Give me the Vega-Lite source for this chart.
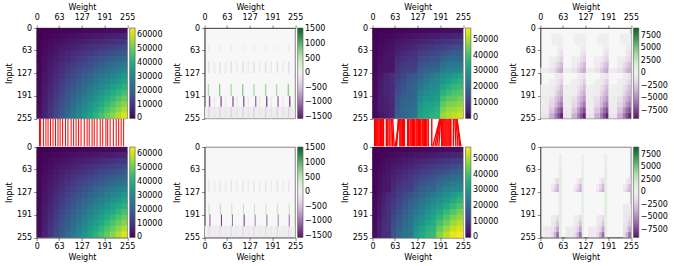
{"$schema":"https://vega.github.io/schema/vega-lite/v6.json","autosize":"none","padding":{"left":36.7,"top":28,"right":637.3,"bottom":238},"background":"white","bounds":"flush","columns":4,"spacing":{"row":0,"column":76.9},"config":{"font":"DejaVu Sans","view":{"stroke":"#555","strokeWidth":0.7},"axis":{"grid":false,"labelFontSize":8,"titleFontSize":8,"titleFontWeight":"normal","tickSize":3,"tickWidth":0.6,"tickColor":"#333","domainColor":"#333","domainWidth":0.7,"labelColor":"black","titleColor":"black","labelFlush":false,"labelOverlap":false},"legend":{"orient":"right","offset":2,"padding":0,"title":null,"gradientLength":90.5,"gradientThickness":5.4,"labelFontSize":8,"labelOffset":6,"labelColor":"black","labelOverlap":false,"gradientStrokeColor":"#555","gradientStrokeWidth":0.6}},"resolve":{"scale":{"color":"independent","x":"independent","y":"independent"}},"datasets":{
"mul":[{"w":8,"i":8,"v":100},{"w":24,"i":8,"v":200},{"w":40,"i":8,"v":300},{"w":56,"i":8,"v":400},{"w":72,"i":8,"v":600},{"w":88,"i":8,"v":700},{"w":104,"i":8,"v":800},{"w":120,"i":8,"v":1000},{"w":136,"i":8,"v":1100},{"w":152,"i":8,"v":1200},{"w":168,"i":8,"v":1300},{"w":184,"i":8,"v":1500},{"w":200,"i":8,"v":1600},{"w":216,"i":8,"v":1700},{"w":232,"i":8,"v":1900},{"w":248,"i":8,"v":2000},
{"w":8,"i":24,"v":200},{"w":24,"i":24,"v":600},{"w":40,"i":24,"v":1000},{"w":56,"i":24,"v":1300},{"w":72,"i":24,"v":1700},{"w":88,"i":24,"v":2100},{"w":104,"i":24,"v":2500},{"w":120,"i":24,"v":2900},{"w":136,"i":24,"v":3300},{"w":152,"i":24,"v":3600},{"w":168,"i":24,"v":4000},{"w":184,"i":24,"v":4400},{"w":200,"i":24,"v":4800},{"w":216,"i":24,"v":5200},{"w":232,"i":24,"v":5600},{"w":248,"i":24,"v":6000},
{"w":8,"i":40,"v":300},{"w":24,"i":40,"v":1000},{"w":40,"i":40,"v":1600},{"w":56,"i":40,"v":2200},{"w":72,"i":40,"v":2900},{"w":88,"i":40,"v":3500},{"w":104,"i":40,"v":4200},{"w":120,"i":40,"v":4800},{"w":136,"i":40,"v":5400},{"w":152,"i":40,"v":6100},{"w":168,"i":40,"v":6700},{"w":184,"i":40,"v":7400},{"w":200,"i":40,"v":8000},{"w":216,"i":40,"v":8600},{"w":232,"i":40,"v":9300},{"w":248,"i":40,"v":9900},
{"w":8,"i":56,"v":400},{"w":24,"i":56,"v":1300},{"w":40,"i":56,"v":2200},{"w":56,"i":56,"v":3100},{"w":72,"i":56,"v":4000},{"w":88,"i":56,"v":4900},{"w":104,"i":56,"v":5800},{"w":120,"i":56,"v":6700},{"w":136,"i":56,"v":7600},{"w":152,"i":56,"v":8500},{"w":168,"i":56,"v":9400},{"w":184,"i":56,"v":10300},{"w":200,"i":56,"v":11200},{"w":216,"i":56,"v":12100},{"w":232,"i":56,"v":13000},{"w":248,"i":56,"v":13900},
{"w":8,"i":72,"v":600},{"w":24,"i":72,"v":1700},{"w":40,"i":72,"v":2900},{"w":56,"i":72,"v":4000},{"w":72,"i":72,"v":5200},{"w":88,"i":72,"v":6300},{"w":104,"i":72,"v":7500},{"w":120,"i":72,"v":8600},{"w":136,"i":72,"v":9800},{"w":152,"i":72,"v":10900},{"w":168,"i":72,"v":12100},{"w":184,"i":72,"v":13200},{"w":200,"i":72,"v":14400},{"w":216,"i":72,"v":15600},{"w":232,"i":72,"v":16700},{"w":248,"i":72,"v":17900},
{"w":8,"i":88,"v":700},{"w":24,"i":88,"v":2100},{"w":40,"i":88,"v":3500},{"w":56,"i":88,"v":4900},{"w":72,"i":88,"v":6300},{"w":88,"i":88,"v":7700},{"w":104,"i":88,"v":9200},{"w":120,"i":88,"v":10600},{"w":136,"i":88,"v":12000},{"w":152,"i":88,"v":13400},{"w":168,"i":88,"v":14800},{"w":184,"i":88,"v":16200},{"w":200,"i":88,"v":17600},{"w":216,"i":88,"v":19000},{"w":232,"i":88,"v":20400},{"w":248,"i":88,"v":21800},
{"w":8,"i":104,"v":800},{"w":24,"i":104,"v":2500},{"w":40,"i":104,"v":4200},{"w":56,"i":104,"v":5800},{"w":72,"i":104,"v":7500},{"w":88,"i":104,"v":9200},{"w":104,"i":104,"v":10800},{"w":120,"i":104,"v":12500},{"w":136,"i":104,"v":14100},{"w":152,"i":104,"v":15800},{"w":168,"i":104,"v":17500},{"w":184,"i":104,"v":19100},{"w":200,"i":104,"v":20800},{"w":216,"i":104,"v":22500},{"w":232,"i":104,"v":24100},{"w":248,"i":104,"v":25800},
{"w":8,"i":120,"v":1000},{"w":24,"i":120,"v":2900},{"w":40,"i":120,"v":4800},{"w":56,"i":120,"v":6700},{"w":72,"i":120,"v":8600},{"w":88,"i":120,"v":10600},{"w":104,"i":120,"v":12500},{"w":120,"i":120,"v":14400},{"w":136,"i":120,"v":16300},{"w":152,"i":120,"v":18200},{"w":168,"i":120,"v":20200},{"w":184,"i":120,"v":22100},{"w":200,"i":120,"v":24000},{"w":216,"i":120,"v":25900},{"w":232,"i":120,"v":27800},{"w":248,"i":120,"v":29800},
{"w":8,"i":136,"v":1100},{"w":24,"i":136,"v":3300},{"w":40,"i":136,"v":5400},{"w":56,"i":136,"v":7600},{"w":72,"i":136,"v":9800},{"w":88,"i":136,"v":12000},{"w":104,"i":136,"v":14100},{"w":120,"i":136,"v":16300},{"w":136,"i":136,"v":18500},{"w":152,"i":136,"v":20700},{"w":168,"i":136,"v":22800},{"w":184,"i":136,"v":25000},{"w":200,"i":136,"v":27200},{"w":216,"i":136,"v":29400},{"w":232,"i":136,"v":31600},{"w":248,"i":136,"v":33700},
{"w":8,"i":152,"v":1200},{"w":24,"i":152,"v":3600},{"w":40,"i":152,"v":6100},{"w":56,"i":152,"v":8500},{"w":72,"i":152,"v":10900},{"w":88,"i":152,"v":13400},{"w":104,"i":152,"v":15800},{"w":120,"i":152,"v":18200},{"w":136,"i":152,"v":20700},{"w":152,"i":152,"v":23100},{"w":168,"i":152,"v":25500},{"w":184,"i":152,"v":28000},{"w":200,"i":152,"v":30400},{"w":216,"i":152,"v":32800},{"w":232,"i":152,"v":35300},{"w":248,"i":152,"v":37700},
{"w":8,"i":168,"v":1300},{"w":24,"i":168,"v":4000},{"w":40,"i":168,"v":6700},{"w":56,"i":168,"v":9400},{"w":72,"i":168,"v":12100},{"w":88,"i":168,"v":14800},{"w":104,"i":168,"v":17500},{"w":120,"i":168,"v":20200},{"w":136,"i":168,"v":22800},{"w":152,"i":168,"v":25500},{"w":168,"i":168,"v":28200},{"w":184,"i":168,"v":30900},{"w":200,"i":168,"v":33600},{"w":216,"i":168,"v":36300},{"w":232,"i":168,"v":39000},{"w":248,"i":168,"v":41700},
{"w":8,"i":184,"v":1500},{"w":24,"i":184,"v":4400},{"w":40,"i":184,"v":7400},{"w":56,"i":184,"v":10300},{"w":72,"i":184,"v":13200},{"w":88,"i":184,"v":16200},{"w":104,"i":184,"v":19100},{"w":120,"i":184,"v":22100},{"w":136,"i":184,"v":25000},{"w":152,"i":184,"v":28000},{"w":168,"i":184,"v":30900},{"w":184,"i":184,"v":33900},{"w":200,"i":184,"v":36800},{"w":216,"i":184,"v":39700},{"w":232,"i":184,"v":42700},{"w":248,"i":184,"v":45600},
{"w":8,"i":200,"v":1600},{"w":24,"i":200,"v":4800},{"w":40,"i":200,"v":8000},{"w":56,"i":200,"v":11200},{"w":72,"i":200,"v":14400},{"w":88,"i":200,"v":17600},{"w":104,"i":200,"v":20800},{"w":120,"i":200,"v":24000},{"w":136,"i":200,"v":27200},{"w":152,"i":200,"v":30400},{"w":168,"i":200,"v":33600},{"w":184,"i":200,"v":36800},{"w":200,"i":200,"v":40000},{"w":216,"i":200,"v":43200},{"w":232,"i":200,"v":46400},{"w":248,"i":200,"v":49600},
{"w":8,"i":216,"v":1700},{"w":24,"i":216,"v":5200},{"w":40,"i":216,"v":8600},{"w":56,"i":216,"v":12100},{"w":72,"i":216,"v":15600},{"w":88,"i":216,"v":19000},{"w":104,"i":216,"v":22500},{"w":120,"i":216,"v":25900},{"w":136,"i":216,"v":29400},{"w":152,"i":216,"v":32800},{"w":168,"i":216,"v":36300},{"w":184,"i":216,"v":39700},{"w":200,"i":216,"v":43200},{"w":216,"i":216,"v":46700},{"w":232,"i":216,"v":50100},{"w":248,"i":216,"v":53600},
{"w":8,"i":232,"v":1900},{"w":24,"i":232,"v":5600},{"w":40,"i":232,"v":9300},{"w":56,"i":232,"v":13000},{"w":72,"i":232,"v":16700},{"w":88,"i":232,"v":20400},{"w":104,"i":232,"v":24100},{"w":120,"i":232,"v":27800},{"w":136,"i":232,"v":31600},{"w":152,"i":232,"v":35300},{"w":168,"i":232,"v":39000},{"w":184,"i":232,"v":42700},{"w":200,"i":232,"v":46400},{"w":216,"i":232,"v":50100},{"w":232,"i":232,"v":53800},{"w":248,"i":232,"v":57500},
{"w":8,"i":248,"v":2000},{"w":24,"i":248,"v":6000},{"w":40,"i":248,"v":9900},{"w":56,"i":248,"v":13900},{"w":72,"i":248,"v":17900},{"w":88,"i":248,"v":21800},{"w":104,"i":248,"v":25800},{"w":120,"i":248,"v":29800},{"w":136,"i":248,"v":33700},{"w":152,"i":248,"v":37700},{"w":168,"i":248,"v":41700},{"w":184,"i":248,"v":45600},{"w":200,"i":248,"v":49600},{"w":216,"i":248,"v":53600},{"w":232,"i":248,"v":57500},{"w":248,"i":248,"v":61500}],
"p3":[{"w":8,"i":8,"v":100},{"w":24,"i":8,"v":200},{"w":40,"i":8,"v":300},{"w":56,"i":8,"v":400},{"w":72,"i":8,"v":600},{"w":88,"i":8,"v":700},{"w":104,"i":8,"v":800},{"w":120,"i":8,"v":1000},{"w":136,"i":8,"v":1100},{"w":152,"i":8,"v":1200},{"w":168,"i":8,"v":1300},{"w":184,"i":8,"v":1500},{"w":200,"i":8,"v":1600},{"w":216,"i":8,"v":1700},{"w":232,"i":8,"v":1900},{"w":248,"i":8,"v":2000},
{"w":8,"i":24,"v":200},{"w":24,"i":24,"v":600},{"w":40,"i":24,"v":1000},{"w":56,"i":24,"v":1200},{"w":72,"i":24,"v":1700},{"w":88,"i":24,"v":2100},{"w":104,"i":24,"v":2500},{"w":120,"i":24,"v":2800},{"w":136,"i":24,"v":3300},{"w":152,"i":24,"v":3600},{"w":168,"i":24,"v":4000},{"w":184,"i":24,"v":4300},{"w":200,"i":24,"v":4800},{"w":216,"i":24,"v":5200},{"w":232,"i":24,"v":5600},{"w":248,"i":24,"v":5900},
{"w":8,"i":40,"v":300},{"w":24,"i":40,"v":900},{"w":40,"i":40,"v":1500},{"w":56,"i":40,"v":2000},{"w":72,"i":40,"v":2900},{"w":88,"i":40,"v":3400},{"w":104,"i":40,"v":4100},{"w":120,"i":40,"v":4600},{"w":136,"i":40,"v":5400},{"w":152,"i":40,"v":6000},{"w":168,"i":40,"v":6600},{"w":184,"i":40,"v":7200},{"w":200,"i":40,"v":8000},{"w":216,"i":40,"v":8500},{"w":232,"i":40,"v":9200},{"w":248,"i":40,"v":9700},
{"w":8,"i":56,"v":400},{"w":24,"i":56,"v":1200},{"w":40,"i":56,"v":2000},{"w":56,"i":56,"v":2700},{"w":72,"i":56,"v":4000},{"w":88,"i":56,"v":4800},{"w":104,"i":56,"v":5600},{"w":120,"i":56,"v":6300},{"w":136,"i":56,"v":7600},{"w":152,"i":56,"v":8400},{"w":168,"i":56,"v":9200},{"w":184,"i":56,"v":9900},{"w":200,"i":56,"v":11200},{"w":216,"i":56,"v":12000},{"w":232,"i":56,"v":12800},{"w":248,"i":56,"v":13500},
{"w":8,"i":72,"v":600},{"w":24,"i":72,"v":1600},{"w":40,"i":72,"v":2700},{"w":56,"i":72,"v":3200},{"w":72,"i":72,"v":5200},{"w":88,"i":72,"v":6200},{"w":104,"i":72,"v":7300},{"w":120,"i":72,"v":7800},{"w":136,"i":72,"v":9800},{"w":152,"i":72,"v":10800},{"w":168,"i":72,"v":11900},{"w":184,"i":72,"v":12400},{"w":200,"i":72,"v":14400},{"w":216,"i":72,"v":15500},{"w":232,"i":72,"v":16500},{"w":248,"i":72,"v":17100},
{"w":8,"i":88,"v":700},{"w":24,"i":88,"v":2000},{"w":40,"i":88,"v":3100},{"w":56,"i":88,"v":2900},{"w":72,"i":88,"v":6300},{"w":88,"i":88,"v":7600},{"w":104,"i":88,"v":8800},{"w":120,"i":88,"v":8600},{"w":136,"i":88,"v":12000},{"w":152,"i":88,"v":13300},{"w":168,"i":88,"v":14400},{"w":184,"i":88,"v":14200},{"w":200,"i":88,"v":17600},{"w":216,"i":88,"v":18900},{"w":232,"i":88,"v":20000},{"w":248,"i":88,"v":19800},
{"w":8,"i":104,"v":800},{"w":24,"i":104,"v":2400},{"w":40,"i":104,"v":3200},{"w":56,"i":104,"v":2800},{"w":72,"i":104,"v":7500},{"w":88,"i":104,"v":9100},{"w":104,"i":104,"v":9800},{"w":120,"i":104,"v":9500},{"w":136,"i":104,"v":14100},{"w":152,"i":104,"v":15700},{"w":168,"i":104,"v":16500},{"w":184,"i":104,"v":16100},{"w":200,"i":104,"v":20800},{"w":216,"i":104,"v":22400},{"w":232,"i":104,"v":23100},{"w":248,"i":104,"v":22800},
{"w":8,"i":120,"v":900},{"w":24,"i":120,"v":2600},{"w":40,"i":120,"v":2800},{"w":56,"i":120,"v":3200},{"w":72,"i":120,"v":8500},{"w":88,"i":120,"v":10300},{"w":104,"i":120,"v":10500},{"w":120,"i":120,"v":10900},{"w":136,"i":120,"v":16200},{"w":152,"i":120,"v":17900},{"w":168,"i":120,"v":18200},{"w":184,"i":120,"v":18600},{"w":200,"i":120,"v":23900},{"w":216,"i":120,"v":25600},{"w":232,"i":120,"v":25800},{"w":248,"i":120,"v":26300},
{"w":8,"i":136,"v":1100},{"w":24,"i":136,"v":3200},{"w":40,"i":136,"v":5300},{"w":56,"i":136,"v":7300},{"w":72,"i":136,"v":9800},{"w":88,"i":136,"v":11900},{"w":104,"i":136,"v":14000},{"w":120,"i":136,"v":16000},{"w":136,"i":136,"v":18500},{"w":152,"i":136,"v":20600},{"w":168,"i":136,"v":22700},{"w":184,"i":136,"v":24700},{"w":200,"i":136,"v":27200},{"w":216,"i":136,"v":29300},{"w":232,"i":136,"v":31400},{"w":248,"i":136,"v":33400},
{"w":8,"i":152,"v":1200},{"w":24,"i":152,"v":3500},{"w":40,"i":152,"v":5800},{"w":56,"i":152,"v":7500},{"w":72,"i":152,"v":10900},{"w":88,"i":152,"v":13300},{"w":104,"i":152,"v":15500},{"w":120,"i":152,"v":17200},{"w":136,"i":152,"v":20700},{"w":152,"i":152,"v":23000},{"w":168,"i":152,"v":25200},{"w":184,"i":152,"v":27000},{"w":200,"i":152,"v":30400},{"w":216,"i":152,"v":32700},{"w":232,"i":152,"v":35000},{"w":248,"i":152,"v":36700},
{"w":8,"i":168,"v":1200},{"w":24,"i":168,"v":3800},{"w":40,"i":168,"v":5900},{"w":56,"i":168,"v":6900},{"w":72,"i":168,"v":12000},{"w":88,"i":168,"v":14600},{"w":104,"i":168,"v":16700},{"w":120,"i":168,"v":17700},{"w":136,"i":168,"v":22700},{"w":152,"i":168,"v":25300},{"w":168,"i":168,"v":27400},{"w":184,"i":168,"v":28400},{"w":200,"i":168,"v":33500},{"w":216,"i":168,"v":36100},{"w":232,"i":168,"v":38200},{"w":248,"i":168,"v":39200},
{"w":8,"i":184,"v":1400},{"w":24,"i":184,"v":4100},{"w":40,"i":184,"v":5900},{"w":56,"i":184,"v":6800},{"w":72,"i":184,"v":13100},{"w":88,"i":184,"v":15900},{"w":104,"i":184,"v":17600},{"w":120,"i":184,"v":18600},{"w":136,"i":184,"v":24900},{"w":152,"i":184,"v":27700},{"w":168,"i":184,"v":29400},{"w":184,"i":184,"v":30400},{"w":200,"i":184,"v":36700},{"w":216,"i":184,"v":39400},{"w":232,"i":184,"v":41200},{"w":248,"i":184,"v":42100},
{"w":8,"i":200,"v":1500},{"w":24,"i":200,"v":4300},{"w":40,"i":200,"v":5000},{"w":56,"i":200,"v":6700},{"w":72,"i":200,"v":14300},{"w":88,"i":200,"v":17100},{"w":104,"i":200,"v":17800},{"w":120,"i":200,"v":19500},{"w":136,"i":200,"v":27100},{"w":152,"i":200,"v":29900},{"w":168,"i":200,"v":30600},{"w":184,"i":200,"v":32300},{"w":200,"i":200,"v":39900},{"w":216,"i":200,"v":42700},{"w":232,"i":200,"v":43400},{"w":248,"i":200,"v":45100},
{"w":8,"i":216,"v":1400},{"w":24,"i":216,"v":4400},{"w":40,"i":216,"v":5100},{"w":56,"i":216,"v":6600},{"w":72,"i":216,"v":15300},{"w":88,"i":216,"v":18200},{"w":104,"i":216,"v":19000},{"w":120,"i":216,"v":20400},{"w":136,"i":216,"v":29100},{"w":152,"i":216,"v":32000},{"w":168,"i":216,"v":32800},{"w":184,"i":216,"v":34200},{"w":200,"i":216,"v":42900},{"w":216,"i":216,"v":45900},{"w":232,"i":216,"v":46600},{"w":248,"i":216,"v":48100},
{"w":8,"i":232,"v":1400},{"w":24,"i":232,"v":4100},{"w":40,"i":232,"v":4800},{"w":56,"i":232,"v":6500},{"w":72,"i":232,"v":16200},{"w":88,"i":232,"v":18900},{"w":104,"i":232,"v":19600},{"w":120,"i":232,"v":21300},{"w":136,"i":232,"v":31100},{"w":152,"i":232,"v":33800},{"w":168,"i":232,"v":34500},{"w":184,"i":232,"v":36200},{"w":200,"i":232,"v":45900},{"w":216,"i":232,"v":48600},{"w":232,"i":232,"v":49300},{"w":248,"i":232,"v":51000},
{"w":8,"i":248,"v":1000},{"w":24,"i":248,"v":3000},{"w":40,"i":248,"v":4400},{"w":56,"i":248,"v":5900},{"w":72,"i":248,"v":16900},{"w":88,"i":248,"v":18800},{"w":104,"i":248,"v":20300},{"w":120,"i":248,"v":21800},{"w":136,"i":248,"v":32700},{"w":152,"i":248,"v":34700},{"w":168,"i":248,"v":36100},{"w":184,"i":248,"v":37600},{"w":200,"i":248,"v":48600},{"w":216,"i":248,"v":50600},{"w":232,"i":248,"v":52000},{"w":248,"i":248,"v":53500}],
"p7":[{"a":0,"b":13,"i":8,"v":100},{"a":13,"b":26,"i":8,"v":200},{"a":26,"b":39,"i":8,"v":300},{"a":39,"b":52,"i":8,"v":400},{"a":52,"b":67,"i":8,"v":500},{"a":67,"b":84,"i":8,"v":600},{"a":84,"b":100,"i":8,"v":700},{"a":100,"b":116,"i":8,"v":900},{"a":116,"b":132,"i":8,"v":1000},{"a":132,"b":148,"i":8,"v":1100},{"a":148,"b":164,"i":8,"v":1200},{"a":164,"b":180,"i":8,"v":1400},{"a":180,"b":199,"i":8,"v":1500},{"a":199,"b":218,"i":8,"v":1700},{"a":218,"b":237,"i":8,"v":1800},{"a":237,"b":255,"i":8,"v":2000},
{"a":0,"b":13,"i":24,"v":200},{"a":13,"b":26,"i":24,"v":500},{"a":26,"b":39,"i":24,"v":800},{"a":39,"b":52,"i":24,"v":1100},{"a":52,"b":67,"i":24,"v":1400},{"a":67,"b":84,"i":24,"v":1800},{"a":84,"b":100,"i":24,"v":2200},{"a":100,"b":116,"i":24,"v":2600},{"a":116,"b":132,"i":24,"v":3000},{"a":132,"b":148,"i":24,"v":3400},{"a":148,"b":164,"i":24,"v":3700},{"a":164,"b":180,"i":24,"v":4100},{"a":180,"b":199,"i":24,"v":4500},{"a":199,"b":218,"i":24,"v":5000},{"a":218,"b":237,"i":24,"v":5500},{"a":237,"b":255,"i":24,"v":5900},
{"a":0,"b":13,"i":40,"v":300},{"a":13,"b":26,"i":40,"v":800},{"a":26,"b":39,"i":40,"v":1300},{"a":39,"b":52,"i":40,"v":1800},{"a":52,"b":67,"i":40,"v":2400},{"a":67,"b":84,"i":40,"v":3000},{"a":84,"b":100,"i":40,"v":3700},{"a":100,"b":116,"i":40,"v":4300},{"a":116,"b":132,"i":40,"v":5000},{"a":132,"b":148,"i":40,"v":5600},{"a":148,"b":164,"i":40,"v":6200},{"a":164,"b":180,"i":40,"v":6900},{"a":180,"b":199,"i":40,"v":7600},{"a":199,"b":218,"i":40,"v":8300},{"a":218,"b":237,"i":40,"v":9100},{"a":237,"b":255,"i":40,"v":9800},
{"a":0,"b":13,"i":56,"v":400},{"a":13,"b":26,"i":56,"v":1100},{"a":26,"b":39,"i":56,"v":1800},{"a":39,"b":52,"i":56,"v":2500},{"a":52,"b":67,"i":56,"v":3300},{"a":67,"b":84,"i":56,"v":4200},{"a":84,"b":100,"i":56,"v":5200},{"a":100,"b":116,"i":56,"v":6000},{"a":116,"b":132,"i":56,"v":6900},{"a":132,"b":148,"i":56,"v":7800},{"a":148,"b":164,"i":56,"v":8700},{"a":164,"b":180,"i":56,"v":9600},{"a":180,"b":199,"i":56,"v":10600},{"a":199,"b":218,"i":56,"v":11700},{"a":218,"b":237,"i":56,"v":12700},{"a":237,"b":255,"i":56,"v":13800},
{"a":0,"b":13,"i":72,"v":500},{"a":13,"b":26,"i":72,"v":1400},{"a":26,"b":39,"i":72,"v":2300},{"a":39,"b":52,"i":72,"v":3300},{"a":52,"b":67,"i":72,"v":4300},{"a":67,"b":84,"i":72,"v":5400},{"a":84,"b":100,"i":72,"v":6600},{"a":100,"b":116,"i":72,"v":7800},{"a":116,"b":132,"i":72,"v":8900},{"a":132,"b":148,"i":72,"v":10100},{"a":148,"b":164,"i":72,"v":11200},{"a":164,"b":180,"i":72,"v":12400},{"a":180,"b":199,"i":72,"v":13600},{"a":199,"b":218,"i":72,"v":15000},{"a":218,"b":237,"i":72,"v":16400},{"a":237,"b":255,"i":72,"v":17700},
{"a":0,"b":13,"i":88,"v":600},{"a":13,"b":26,"i":88,"v":1700},{"a":26,"b":39,"i":88,"v":2900},{"a":39,"b":52,"i":88,"v":3500},{"a":52,"b":67,"i":88,"v":5200},{"a":67,"b":84,"i":88,"v":6600},{"a":84,"b":100,"i":88,"v":8100},{"a":100,"b":116,"i":88,"v":9000},{"a":116,"b":132,"i":88,"v":10900},{"a":132,"b":148,"i":88,"v":12300},{"a":148,"b":164,"i":88,"v":13700},{"a":164,"b":180,"i":88,"v":14600},{"a":180,"b":199,"i":88,"v":16700},{"a":199,"b":218,"i":88,"v":18300},{"a":218,"b":237,"i":88,"v":20000},{"a":237,"b":255,"i":88,"v":21100},
{"a":0,"b":13,"i":104,"v":700},{"a":13,"b":26,"i":104,"v":2000},{"a":26,"b":39,"i":104,"v":3400},{"a":39,"b":52,"i":104,"v":3500},{"a":52,"b":67,"i":104,"v":6200},{"a":67,"b":84,"i":104,"v":7900},{"a":84,"b":100,"i":104,"v":9600},{"a":100,"b":116,"i":104,"v":10000},{"a":116,"b":132,"i":104,"v":12900},{"a":132,"b":148,"i":104,"v":14600},{"a":148,"b":164,"i":104,"v":16200},{"a":164,"b":180,"i":104,"v":16700},{"a":180,"b":199,"i":104,"v":19700},{"a":199,"b":218,"i":104,"v":21700},{"a":218,"b":237,"i":104,"v":23700},{"a":237,"b":255,"i":104,"v":24400},
{"a":0,"b":13,"i":120,"v":800},{"a":13,"b":26,"i":120,"v":2300},{"a":26,"b":39,"i":120,"v":3600},{"a":39,"b":52,"i":120,"v":3000},{"a":52,"b":67,"i":120,"v":7100},{"a":67,"b":84,"i":120,"v":9100},{"a":84,"b":100,"i":120,"v":10700},{"a":100,"b":116,"i":120,"v":10500},{"a":116,"b":132,"i":120,"v":14900},{"a":132,"b":148,"i":120,"v":16800},{"a":148,"b":164,"i":120,"v":18400},{"a":164,"b":180,"i":120,"v":18100},{"a":180,"b":199,"i":120,"v":22700},{"a":199,"b":218,"i":120,"v":25000},{"a":218,"b":237,"i":120,"v":27000},{"a":237,"b":255,"i":120,"v":27000},
{"a":0,"b":13,"i":136,"v":900},{"a":13,"b":26,"i":136,"v":2700},{"a":26,"b":39,"i":136,"v":4400},{"a":39,"b":52,"i":136,"v":6200},{"a":52,"b":67,"i":136,"v":8100},{"a":67,"b":84,"i":136,"v":10300},{"a":84,"b":100,"i":136,"v":12500},{"a":100,"b":116,"i":136,"v":14700},{"a":116,"b":132,"i":136,"v":16900},{"a":132,"b":148,"i":136,"v":19000},{"a":148,"b":164,"i":136,"v":21200},{"a":164,"b":180,"i":136,"v":23400},{"a":180,"b":199,"i":136,"v":25800},{"a":199,"b":218,"i":136,"v":28400},{"a":218,"b":237,"i":136,"v":30900},{"a":237,"b":255,"i":136,"v":33500},
{"a":0,"b":13,"i":152,"v":1000},{"a":13,"b":26,"i":152,"v":3000},{"a":26,"b":39,"i":152,"v":4900},{"a":39,"b":52,"i":152,"v":6900},{"a":52,"b":67,"i":152,"v":9000},{"a":67,"b":84,"i":152,"v":11500},{"a":84,"b":100,"i":152,"v":14000},{"a":100,"b":116,"i":152,"v":16400},{"a":116,"b":132,"i":152,"v":18800},{"a":132,"b":148,"i":152,"v":21300},{"a":148,"b":164,"i":152,"v":23700},{"a":164,"b":180,"i":152,"v":26100},{"a":180,"b":199,"i":152,"v":28800},{"a":199,"b":218,"i":152,"v":31700},{"a":218,"b":237,"i":152,"v":34600},{"a":237,"b":255,"i":152,"v":37400},
{"a":0,"b":13,"i":168,"v":1100},{"a":13,"b":26,"i":168,"v":3300},{"a":26,"b":39,"i":168,"v":5500},{"a":39,"b":52,"i":168,"v":7600},{"a":52,"b":67,"i":168,"v":10000},{"a":67,"b":84,"i":168,"v":12700},{"a":84,"b":100,"i":168,"v":15500},{"a":100,"b":116,"i":168,"v":18100},{"a":116,"b":132,"i":168,"v":20800},{"a":132,"b":148,"i":168,"v":23500},{"a":148,"b":164,"i":168,"v":26200},{"a":164,"b":180,"i":168,"v":28900},{"a":180,"b":199,"i":168,"v":31800},{"a":199,"b":218,"i":168,"v":35000},{"a":218,"b":237,"i":168,"v":38200},{"a":237,"b":255,"i":168,"v":41300},
{"a":0,"b":13,"i":184,"v":1200},{"a":13,"b":26,"i":184,"v":3600},{"a":26,"b":39,"i":184,"v":6000},{"a":39,"b":52,"i":184,"v":8400},{"a":52,"b":67,"i":184,"v":10900},{"a":67,"b":84,"i":184,"v":13900},{"a":84,"b":100,"i":184,"v":16900},{"a":100,"b":116,"i":184,"v":19900},{"a":116,"b":132,"i":184,"v":22800},{"a":132,"b":148,"i":184,"v":25800},{"a":148,"b":164,"i":184,"v":28700},{"a":164,"b":180,"i":184,"v":31600},{"a":180,"b":199,"i":184,"v":34900},{"a":199,"b":218,"i":184,"v":38400},{"a":218,"b":237,"i":184,"v":41900},{"a":237,"b":255,"i":184,"v":45300},
{"a":0,"b":13,"i":200,"v":1300},{"a":13,"b":26,"i":200,"v":3900},{"a":26,"b":39,"i":200,"v":6500},{"a":39,"b":52,"i":200,"v":8400},{"a":52,"b":67,"i":200,"v":11900},{"a":67,"b":84,"i":200,"v":15100},{"a":84,"b":100,"i":200,"v":18400},{"a":100,"b":116,"i":200,"v":20900},{"a":116,"b":132,"i":200,"v":24800},{"a":132,"b":148,"i":200,"v":28000},{"a":148,"b":164,"i":200,"v":31200},{"a":164,"b":180,"i":200,"v":33700},{"a":180,"b":199,"i":200,"v":37900},{"a":199,"b":218,"i":200,"v":41700},{"a":218,"b":237,"i":200,"v":45500},{"a":237,"b":255,"i":200,"v":48500},
{"a":0,"b":13,"i":216,"v":1400},{"a":13,"b":26,"i":216,"v":4200},{"a":26,"b":39,"i":216,"v":7000},{"a":39,"b":52,"i":216,"v":8300},{"a":52,"b":67,"i":216,"v":12900},{"a":67,"b":84,"i":216,"v":16300},{"a":84,"b":100,"i":216,"v":19900},{"a":100,"b":116,"i":216,"v":21800},{"a":116,"b":132,"i":216,"v":26800},{"a":132,"b":148,"i":216,"v":30200},{"a":148,"b":164,"i":216,"v":33700},{"a":164,"b":180,"i":216,"v":35600},{"a":180,"b":199,"i":216,"v":40900},{"a":199,"b":218,"i":216,"v":45000},{"a":218,"b":237,"i":216,"v":49100},{"a":237,"b":255,"i":216,"v":51600},
{"a":0,"b":13,"i":232,"v":1500},{"a":13,"b":26,"i":232,"v":4500},{"a":26,"b":39,"i":232,"v":7200},{"a":39,"b":52,"i":232,"v":8100},{"a":52,"b":67,"i":232,"v":13800},{"a":67,"b":84,"i":232,"v":17500},{"a":84,"b":100,"i":232,"v":21000},{"a":100,"b":116,"i":232,"v":22600},{"a":116,"b":132,"i":232,"v":28800},{"a":132,"b":148,"i":232,"v":32500},{"a":148,"b":164,"i":232,"v":35900},{"a":164,"b":180,"i":232,"v":37400},{"a":180,"b":199,"i":232,"v":44000},{"a":199,"b":218,"i":232,"v":48400},{"a":218,"b":237,"i":232,"v":52500},{"a":237,"b":255,"i":232,"v":54600},
{"a":0,"b":13,"i":248,"v":1600},{"a":13,"b":26,"i":248,"v":4800},{"a":26,"b":39,"i":248,"v":7300},{"a":39,"b":52,"i":248,"v":7300},{"a":52,"b":67,"i":248,"v":14800},{"a":67,"b":84,"i":248,"v":18700},{"a":84,"b":100,"i":248,"v":22000},{"a":100,"b":116,"i":248,"v":22800},{"a":116,"b":132,"i":248,"v":30800},{"a":132,"b":148,"i":248,"v":34700},{"a":148,"b":164,"i":248,"v":37900},{"a":164,"b":180,"i":248,"v":38700},{"a":180,"b":199,"i":248,"v":47000},{"a":199,"b":218,"i":248,"v":51700},{"a":218,"b":237,"i":248,"v":55600},{"a":237,"b":255,"i":248,"v":57000}],
"p2":[{"a":0,"b":255,"c":222,"d":255,"v":-40},
{"a":10,"b":14,"c":50,"d":63,"v":-80},{"a":41,"b":45,"c":50,"d":63,"v":-80},{"a":73,"b":77,"c":50,"d":63,"v":-80},{"a":106,"b":110,"c":50,"d":63,"v":-80},{"a":137,"b":141,"c":50,"d":63,"v":-80},{"a":170,"b":174,"c":50,"d":63,"v":-80},{"a":203,"b":207,"c":50,"d":63,"v":-80},{"a":235,"b":239,"c":50,"d":63,"v":-80},
{"a":10,"b":14,"c":95,"d":127,"v":-250},{"a":26,"b":30,"c":95,"d":127,"v":-100},{"a":41,"b":45,"c":95,"d":127,"v":-250},{"a":57,"b":61,"c":95,"d":127,"v":-100},{"a":73,"b":77,"c":95,"d":127,"v":-250},{"a":89,"b":93,"c":95,"d":127,"v":-100},{"a":106,"b":110,"c":95,"d":127,"v":-250},{"a":121,"b":125,"c":95,"d":127,"v":-100},{"a":137,"b":141,"c":95,"d":127,"v":-250},{"a":153,"b":157,"c":95,"d":127,"v":-100},{"a":170,"b":174,"c":95,"d":127,"v":-250},{"a":186,"b":190,"c":95,"d":127,"v":-100},{"a":203,"b":207,"c":95,"d":127,"v":-250},{"a":219,"b":223,"c":95,"d":127,"v":-100},{"a":235,"b":239,"c":95,"d":127,"v":-250},
{"a":10,"b":14,"c":222,"d":255,"v":-350},{"a":26,"b":30,"c":222,"d":255,"v":-180},{"a":41,"b":45,"c":222,"d":255,"v":-350},{"a":57,"b":61,"c":222,"d":255,"v":-180},{"a":73,"b":77,"c":222,"d":255,"v":-350},{"a":89,"b":93,"c":222,"d":255,"v":-180},{"a":106,"b":110,"c":222,"d":255,"v":-350},{"a":121,"b":125,"c":222,"d":255,"v":-180},{"a":137,"b":141,"c":222,"d":255,"v":-350},{"a":153,"b":157,"c":222,"d":255,"v":-180},{"a":170,"b":174,"c":222,"d":255,"v":-350},{"a":186,"b":190,"c":222,"d":255,"v":-180},{"a":203,"b":207,"c":222,"d":255,"v":-350},{"a":219,"b":223,"c":222,"d":255,"v":-180},{"a":235,"b":239,"c":222,"d":255,"v":-350},
{"a":26,"b":30,"c":192,"d":222,"v":-100},{"a":57,"b":61,"c":192,"d":222,"v":-100},{"a":89,"b":93,"c":192,"d":222,"v":-100},{"a":121,"b":125,"c":192,"d":222,"v":-100},{"a":153,"b":157,"c":192,"d":222,"v":-100},{"a":186,"b":190,"c":192,"d":222,"v":-100},{"a":219,"b":223,"c":192,"d":222,"v":-100},
{"a":9,"b":13,"c":158,"d":192,"v":600},{"a":41,"b":44,"c":158,"d":192,"v":900},{"a":73,"b":77,"c":158,"d":192,"v":600},{"a":106,"b":109,"c":158,"d":192,"v":900},{"a":137,"b":141,"c":158,"d":192,"v":600},{"a":170,"b":174,"c":158,"d":192,"v":650},{"a":201,"b":205,"c":158,"d":192,"v":600},{"a":234,"b":238,"c":158,"d":192,"v":750},
{"a":12,"b":16,"c":192,"d":222,"v":-1100},{"a":45,"b":48,"c":192,"d":222,"v":-1400},{"a":78,"b":82,"c":192,"d":222,"v":-1100},{"a":109,"b":112,"c":192,"d":222,"v":-1400},{"a":142,"b":146,"c":192,"d":222,"v":-1000},{"a":173,"b":177,"c":192,"d":222,"v":-1200},{"a":205,"b":209,"c":192,"d":222,"v":-1000},{"a":238,"b":242,"c":192,"d":222,"v":-1200}],
"p6":[{"a":0,"b":255,"c":222,"d":255,"v":-20},
{"a":10,"b":14,"c":95,"d":127,"v":-150},{"a":26,"b":30,"c":95,"d":127,"v":-60},{"a":41,"b":45,"c":95,"d":127,"v":-150},{"a":57,"b":61,"c":95,"d":127,"v":-60},{"a":73,"b":77,"c":95,"d":127,"v":-150},{"a":89,"b":93,"c":95,"d":127,"v":-60},{"a":106,"b":110,"c":95,"d":127,"v":-150},{"a":121,"b":125,"c":95,"d":127,"v":-60},{"a":137,"b":141,"c":95,"d":127,"v":-150},{"a":153,"b":157,"c":95,"d":127,"v":-60},{"a":170,"b":174,"c":95,"d":127,"v":-150},{"a":186,"b":190,"c":95,"d":127,"v":-60},{"a":203,"b":207,"c":95,"d":127,"v":-150},{"a":219,"b":223,"c":95,"d":127,"v":-60},{"a":235,"b":239,"c":95,"d":127,"v":-150},
{"a":10,"b":14,"c":222,"d":255,"v":-250},{"a":26,"b":30,"c":222,"d":255,"v":-110},{"a":41,"b":45,"c":222,"d":255,"v":-250},{"a":57,"b":61,"c":222,"d":255,"v":-110},{"a":73,"b":77,"c":222,"d":255,"v":-250},{"a":89,"b":93,"c":222,"d":255,"v":-110},{"a":106,"b":110,"c":222,"d":255,"v":-250},{"a":121,"b":125,"c":222,"d":255,"v":-110},{"a":137,"b":141,"c":222,"d":255,"v":-250},{"a":153,"b":157,"c":222,"d":255,"v":-110},{"a":170,"b":174,"c":222,"d":255,"v":-250},{"a":186,"b":190,"c":222,"d":255,"v":-110},{"a":203,"b":207,"c":222,"d":255,"v":-250},{"a":219,"b":223,"c":222,"d":255,"v":-110},{"a":235,"b":239,"c":222,"d":255,"v":-250},
{"a":11,"b":14,"c":159,"d":190,"v":450},{"a":43,"b":45,"c":159,"d":190,"v":700},{"a":75,"b":78,"c":159,"d":190,"v":450},{"a":108,"b":110,"c":159,"d":190,"v":650},{"a":139,"b":142,"c":159,"d":190,"v":450},{"a":171,"b":174,"c":159,"d":190,"v":450},{"a":204,"b":207,"c":159,"d":190,"v":450},{"a":237,"b":240,"c":159,"d":190,"v":450},
{"a":13,"b":17,"c":190,"d":223,"v":-900},{"a":46,"b":49,"c":190,"d":223,"v":-1300},{"a":77,"b":80,"c":190,"d":223,"v":-1000},{"a":110,"b":113,"c":190,"d":223,"v":-1300},{"a":141,"b":144,"c":190,"d":223,"v":-900},{"a":174,"b":177,"c":190,"d":223,"v":-1000},{"a":206,"b":209,"c":190,"d":223,"v":-900},{"a":237,"b":240,"c":190,"d":223,"v":-1000}],
"p4":[
{"a":32,"b":64,"c":16,"d":48,"v":-100},{"a":48,"b":56,"c":48,"d":64,"v":-150},{"a":56,"b":64,"c":48,"d":64,"v":-300},{"a":48,"b":56,"c":64,"d":80,"v":-400},{"a":56,"b":64,"c":64,"d":80,"v":-1200},{"a":24,"b":40,"c":80,"d":96,"v":-100},{"a":40,"b":48,"c":80,"d":96,"v":-300},{"a":48,"b":56,"c":80,"d":96,"v":-1200},{"a":56,"b":64,"c":80,"d":96,"v":-2000},{"a":24,"b":40,"c":96,"d":112,"v":-300},{"a":40,"b":48,"c":96,"d":112,"v":-1200},{"a":48,"b":56,"c":96,"d":112,"v":-2200},{"a":56,"b":64,"c":96,"d":112,"v":-3000},{"a":0,"b":24,"c":112,"d":127,"v":-200},{"a":24,"b":40,"c":112,"d":127,"v":-1000},{"a":40,"b":48,"c":112,"d":127,"v":-2200},{"a":48,"b":56,"c":112,"d":127,"v":-3200},{"a":56,"b":64,"c":112,"d":127,"v":-3800},{"a":40,"b":48,"c":128,"d":144,"v":-200},{"a":48,"b":56,"c":128,"d":144,"v":-400},{"a":56,"b":64,"c":128,"d":144,"v":-1000},{"a":24,"b":40,"c":144,"d":160,"v":-150},{"a":40,"b":48,"c":144,"d":160,"v":-300},{"a":48,"b":56,"c":144,"d":160,"v":-1200},{"a":56,"b":64,"c":144,"d":160,"v":-2000},{"a":0,"b":24,"c":160,"d":176,"v":-100},{"a":24,"b":40,"c":160,"d":176,"v":-200},{"a":40,"b":48,"c":160,"d":176,"v":-1000},{"a":48,"b":56,"c":160,"d":176,"v":-2000},{"a":56,"b":64,"c":160,"d":176,"v":-3000},{"a":0,"b":24,"c":176,"d":192,"v":-100},{"a":24,"b":40,"c":176,"d":192,"v":-300},{"a":40,"b":48,"c":176,"d":192,"v":-1800},{"a":48,"b":56,"c":176,"d":192,"v":-2800},{"a":56,"b":64,"c":176,"d":192,"v":-3500},{"a":0,"b":24,"c":192,"d":208,"v":-200},{"a":24,"b":40,"c":192,"d":208,"v":-1200},{"a":40,"b":48,"c":192,"d":208,"v":-2600},{"a":48,"b":56,"c":192,"d":208,"v":-3500},{"a":56,"b":64,"c":192,"d":208,"v":-4500},{"a":0,"b":24,"c":208,"d":224,"v":-300},{"a":24,"b":40,"c":208,"d":224,"v":-1800},{"a":40,"b":48,"c":208,"d":224,"v":-3000},{"a":48,"b":56,"c":208,"d":224,"v":-4500},{"a":56,"b":64,"c":208,"d":224,"v":-5500},{"a":0,"b":24,"c":224,"d":240,"v":-500},{"a":24,"b":40,"c":224,"d":240,"v":-2500},{"a":40,"b":48,"c":224,"d":240,"v":-4500},{"a":48,"b":56,"c":224,"d":240,"v":-6000},{"a":56,"b":64,"c":224,"d":240,"v":-7000},{"a":0,"b":24,"c":240,"d":255,"v":-800},{"a":24,"b":40,"c":240,"d":255,"v":-3500},{"a":40,"b":48,"c":240,"d":255,"v":-5500},{"a":48,"b":56,"c":240,"d":255,"v":-7000},{"a":56,"b":64,"c":240,"d":255,"v":-8500},
{"a":96,"b":128,"c":16,"d":48,"v":-100},{"a":112,"b":120,"c":48,"d":64,"v":-150},{"a":120,"b":128,"c":48,"d":64,"v":-300},{"a":112,"b":120,"c":64,"d":80,"v":-400},{"a":120,"b":128,"c":64,"d":80,"v":-1200},{"a":88,"b":104,"c":80,"d":96,"v":-100},{"a":104,"b":112,"c":80,"d":96,"v":-300},{"a":112,"b":120,"c":80,"d":96,"v":-1200},{"a":120,"b":128,"c":80,"d":96,"v":-2000},{"a":88,"b":104,"c":96,"d":112,"v":-300},{"a":104,"b":112,"c":96,"d":112,"v":-1200},{"a":112,"b":120,"c":96,"d":112,"v":-2200},{"a":120,"b":128,"c":96,"d":112,"v":-3000},{"a":64,"b":88,"c":112,"d":127,"v":-200},{"a":88,"b":104,"c":112,"d":127,"v":-1000},{"a":104,"b":112,"c":112,"d":127,"v":-2200},{"a":112,"b":120,"c":112,"d":127,"v":-3200},{"a":120,"b":128,"c":112,"d":127,"v":-3800},{"a":104,"b":112,"c":128,"d":144,"v":-200},{"a":112,"b":120,"c":128,"d":144,"v":-400},{"a":120,"b":128,"c":128,"d":144,"v":-1000},{"a":88,"b":104,"c":144,"d":160,"v":-150},{"a":104,"b":112,"c":144,"d":160,"v":-300},{"a":112,"b":120,"c":144,"d":160,"v":-1200},{"a":120,"b":128,"c":144,"d":160,"v":-2000},{"a":64,"b":88,"c":160,"d":176,"v":-100},{"a":88,"b":104,"c":160,"d":176,"v":-200},{"a":104,"b":112,"c":160,"d":176,"v":-1000},{"a":112,"b":120,"c":160,"d":176,"v":-2000},{"a":120,"b":128,"c":160,"d":176,"v":-3000},{"a":64,"b":88,"c":176,"d":192,"v":-100},{"a":88,"b":104,"c":176,"d":192,"v":-300},{"a":104,"b":112,"c":176,"d":192,"v":-1800},{"a":112,"b":120,"c":176,"d":192,"v":-2800},{"a":120,"b":128,"c":176,"d":192,"v":-3500},{"a":64,"b":88,"c":192,"d":208,"v":-200},{"a":88,"b":104,"c":192,"d":208,"v":-1200},{"a":104,"b":112,"c":192,"d":208,"v":-2600},{"a":112,"b":120,"c":192,"d":208,"v":-3500},{"a":120,"b":128,"c":192,"d":208,"v":-4500},{"a":64,"b":88,"c":208,"d":224,"v":-300},{"a":88,"b":104,"c":208,"d":224,"v":-1800},{"a":104,"b":112,"c":208,"d":224,"v":-3000},{"a":112,"b":120,"c":208,"d":224,"v":-4500},{"a":120,"b":128,"c":208,"d":224,"v":-5500},{"a":64,"b":88,"c":224,"d":240,"v":-500},{"a":88,"b":104,"c":224,"d":240,"v":-2500},{"a":104,"b":112,"c":224,"d":240,"v":-4500},{"a":112,"b":120,"c":224,"d":240,"v":-6000},{"a":120,"b":128,"c":224,"d":240,"v":-7000},{"a":64,"b":88,"c":240,"d":255,"v":-800},{"a":88,"b":104,"c":240,"d":255,"v":-3500},{"a":104,"b":112,"c":240,"d":255,"v":-5500},{"a":112,"b":120,"c":240,"d":255,"v":-7000},{"a":120,"b":128,"c":240,"d":255,"v":-8500},
{"a":160,"b":192,"c":16,"d":48,"v":-100},{"a":176,"b":184,"c":48,"d":64,"v":-150},{"a":184,"b":192,"c":48,"d":64,"v":-300},{"a":176,"b":184,"c":64,"d":80,"v":-400},{"a":184,"b":192,"c":64,"d":80,"v":-1200},{"a":152,"b":168,"c":80,"d":96,"v":-100},{"a":168,"b":176,"c":80,"d":96,"v":-300},{"a":176,"b":184,"c":80,"d":96,"v":-1200},{"a":184,"b":192,"c":80,"d":96,"v":-2000},{"a":152,"b":168,"c":96,"d":112,"v":-300},{"a":168,"b":176,"c":96,"d":112,"v":-1200},{"a":176,"b":184,"c":96,"d":112,"v":-2200},{"a":184,"b":192,"c":96,"d":112,"v":-3000},{"a":128,"b":152,"c":112,"d":127,"v":-200},{"a":152,"b":168,"c":112,"d":127,"v":-1000},{"a":168,"b":176,"c":112,"d":127,"v":-2200},{"a":176,"b":184,"c":112,"d":127,"v":-3200},{"a":184,"b":192,"c":112,"d":127,"v":-3800},{"a":168,"b":176,"c":128,"d":144,"v":-200},{"a":176,"b":184,"c":128,"d":144,"v":-400},{"a":184,"b":192,"c":128,"d":144,"v":-1000},{"a":152,"b":168,"c":144,"d":160,"v":-150},{"a":168,"b":176,"c":144,"d":160,"v":-300},{"a":176,"b":184,"c":144,"d":160,"v":-1200},{"a":184,"b":192,"c":144,"d":160,"v":-2000},{"a":128,"b":152,"c":160,"d":176,"v":-100},{"a":152,"b":168,"c":160,"d":176,"v":-200},{"a":168,"b":176,"c":160,"d":176,"v":-1000},{"a":176,"b":184,"c":160,"d":176,"v":-2000},{"a":184,"b":192,"c":160,"d":176,"v":-3000},{"a":128,"b":152,"c":176,"d":192,"v":-100},{"a":152,"b":168,"c":176,"d":192,"v":-300},{"a":168,"b":176,"c":176,"d":192,"v":-1800},{"a":176,"b":184,"c":176,"d":192,"v":-2800},{"a":184,"b":192,"c":176,"d":192,"v":-3500},{"a":128,"b":152,"c":192,"d":208,"v":-200},{"a":152,"b":168,"c":192,"d":208,"v":-1200},{"a":168,"b":176,"c":192,"d":208,"v":-2600},{"a":176,"b":184,"c":192,"d":208,"v":-3500},{"a":184,"b":192,"c":192,"d":208,"v":-4500},{"a":128,"b":152,"c":208,"d":224,"v":-300},{"a":152,"b":168,"c":208,"d":224,"v":-1800},{"a":168,"b":176,"c":208,"d":224,"v":-3000},{"a":176,"b":184,"c":208,"d":224,"v":-4500},{"a":184,"b":192,"c":208,"d":224,"v":-5500},{"a":128,"b":152,"c":224,"d":240,"v":-500},{"a":152,"b":168,"c":224,"d":240,"v":-2500},{"a":168,"b":176,"c":224,"d":240,"v":-4500},{"a":176,"b":184,"c":224,"d":240,"v":-6000},{"a":184,"b":192,"c":224,"d":240,"v":-7000},{"a":128,"b":152,"c":240,"d":255,"v":-800},{"a":152,"b":168,"c":240,"d":255,"v":-3500},{"a":168,"b":176,"c":240,"d":255,"v":-5500},{"a":176,"b":184,"c":240,"d":255,"v":-7000},{"a":184,"b":192,"c":240,"d":255,"v":-8500},
{"a":224,"b":255,"c":16,"d":48,"v":-100},{"a":240,"b":248,"c":48,"d":64,"v":-150},{"a":248,"b":255,"c":48,"d":64,"v":-300},{"a":240,"b":248,"c":64,"d":80,"v":-400},{"a":248,"b":255,"c":64,"d":80,"v":-1200},{"a":216,"b":232,"c":80,"d":96,"v":-100},{"a":232,"b":240,"c":80,"d":96,"v":-300},{"a":240,"b":248,"c":80,"d":96,"v":-1200},{"a":248,"b":255,"c":80,"d":96,"v":-2000},{"a":216,"b":232,"c":96,"d":112,"v":-300},{"a":232,"b":240,"c":96,"d":112,"v":-1200},{"a":240,"b":248,"c":96,"d":112,"v":-2200},{"a":248,"b":255,"c":96,"d":112,"v":-3000},{"a":192,"b":216,"c":112,"d":127,"v":-200},{"a":216,"b":232,"c":112,"d":127,"v":-1000},{"a":232,"b":240,"c":112,"d":127,"v":-2200},{"a":240,"b":248,"c":112,"d":127,"v":-3200},{"a":248,"b":255,"c":112,"d":127,"v":-3800},{"a":232,"b":240,"c":128,"d":144,"v":-200},{"a":240,"b":248,"c":128,"d":144,"v":-400},{"a":248,"b":255,"c":128,"d":144,"v":-1000},{"a":216,"b":232,"c":144,"d":160,"v":-150},{"a":232,"b":240,"c":144,"d":160,"v":-300},{"a":240,"b":248,"c":144,"d":160,"v":-1200},{"a":248,"b":255,"c":144,"d":160,"v":-2000},{"a":192,"b":216,"c":160,"d":176,"v":-100},{"a":216,"b":232,"c":160,"d":176,"v":-200},{"a":232,"b":240,"c":160,"d":176,"v":-1000},{"a":240,"b":248,"c":160,"d":176,"v":-2000},{"a":248,"b":255,"c":160,"d":176,"v":-3000},{"a":192,"b":216,"c":176,"d":192,"v":-100},{"a":216,"b":232,"c":176,"d":192,"v":-300},{"a":232,"b":240,"c":176,"d":192,"v":-1800},{"a":240,"b":248,"c":176,"d":192,"v":-2800},{"a":248,"b":255,"c":176,"d":192,"v":-3500},{"a":192,"b":216,"c":192,"d":208,"v":-200},{"a":216,"b":232,"c":192,"d":208,"v":-1200},{"a":232,"b":240,"c":192,"d":208,"v":-2600},{"a":240,"b":248,"c":192,"d":208,"v":-3500},{"a":248,"b":255,"c":192,"d":208,"v":-4500},{"a":192,"b":216,"c":208,"d":224,"v":-300},{"a":216,"b":232,"c":208,"d":224,"v":-1800},{"a":232,"b":240,"c":208,"d":224,"v":-3000},{"a":240,"b":248,"c":208,"d":224,"v":-4500},{"a":248,"b":255,"c":208,"d":224,"v":-5500},{"a":192,"b":216,"c":224,"d":240,"v":-500},{"a":216,"b":232,"c":224,"d":240,"v":-2500},{"a":232,"b":240,"c":224,"d":240,"v":-4500},{"a":240,"b":248,"c":224,"d":240,"v":-6000},{"a":248,"b":255,"c":224,"d":240,"v":-7000},{"a":192,"b":216,"c":240,"d":255,"v":-800},{"a":216,"b":232,"c":240,"d":255,"v":-3500},{"a":232,"b":240,"c":240,"d":255,"v":-5500},{"a":240,"b":248,"c":240,"d":255,"v":-7000},{"a":248,"b":255,"c":240,"d":255,"v":-8500}],
"p8":[
{"a":52,"b":60,"c":60,"d":255,"v":1000},{"a":116,"b":122,"c":60,"d":255,"v":1000},{"a":180,"b":188,"c":60,"d":255,"v":1000},{"a":52,"b":60,"c":20,"d":60,"v":400},{"a":116,"b":122,"c":20,"d":60,"v":400},{"a":180,"b":188,"c":20,"d":60,"v":400},
{"a":38,"b":45,"c":88,"d":104,"v":-300},{"a":45,"b":52,"c":88,"d":104,"v":-1500},{"a":30,"b":38,"c":104,"d":120,"v":-300},{"a":38,"b":45,"c":104,"d":120,"v":-1500},{"a":45,"b":52,"c":104,"d":120,"v":-3000},{"a":30,"b":38,"c":120,"d":127,"v":-1000},{"a":38,"b":45,"c":120,"d":127,"v":-2500},{"a":45,"b":52,"c":120,"d":127,"v":-3500},{"a":30,"b":38,"c":192,"d":208,"v":-200},{"a":38,"b":45,"c":192,"d":208,"v":-500},{"a":45,"b":52,"c":192,"d":208,"v":-1500},{"a":30,"b":38,"c":208,"d":224,"v":-400},{"a":38,"b":45,"c":208,"d":224,"v":-1000},{"a":45,"b":52,"c":208,"d":224,"v":-2500},{"a":7,"b":30,"c":224,"d":255,"v":-500},{"a":30,"b":38,"c":224,"d":240,"v":-800},{"a":38,"b":45,"c":224,"d":240,"v":-2000},{"a":45,"b":52,"c":224,"d":240,"v":-4000},{"a":30,"b":38,"c":240,"d":255,"v":-1500},{"a":38,"b":45,"c":240,"d":255,"v":-3500},{"a":45,"b":52,"c":240,"d":255,"v":-6000},
{"a":102,"b":109,"c":88,"d":104,"v":-300},{"a":109,"b":116,"c":88,"d":104,"v":-1500},{"a":94,"b":102,"c":104,"d":120,"v":-300},{"a":102,"b":109,"c":104,"d":120,"v":-1500},{"a":109,"b":116,"c":104,"d":120,"v":-3000},{"a":94,"b":102,"c":120,"d":127,"v":-1000},{"a":102,"b":109,"c":120,"d":127,"v":-2500},{"a":109,"b":116,"c":120,"d":127,"v":-3500},{"a":94,"b":102,"c":192,"d":208,"v":-200},{"a":102,"b":109,"c":192,"d":208,"v":-500},{"a":109,"b":116,"c":192,"d":208,"v":-1500},{"a":94,"b":102,"c":208,"d":224,"v":-400},{"a":102,"b":109,"c":208,"d":224,"v":-1000},{"a":109,"b":116,"c":208,"d":224,"v":-2500},{"a":71,"b":94,"c":224,"d":255,"v":-500},{"a":94,"b":102,"c":224,"d":240,"v":-800},{"a":102,"b":109,"c":224,"d":240,"v":-2000},{"a":109,"b":116,"c":224,"d":240,"v":-4000},{"a":94,"b":102,"c":240,"d":255,"v":-1500},{"a":102,"b":109,"c":240,"d":255,"v":-3500},{"a":109,"b":116,"c":240,"d":255,"v":-6000},
{"a":166,"b":173,"c":88,"d":104,"v":-300},{"a":173,"b":180,"c":88,"d":104,"v":-1500},{"a":158,"b":166,"c":104,"d":120,"v":-300},{"a":166,"b":173,"c":104,"d":120,"v":-1500},{"a":173,"b":180,"c":104,"d":120,"v":-3000},{"a":158,"b":166,"c":120,"d":127,"v":-1000},{"a":166,"b":173,"c":120,"d":127,"v":-2500},{"a":173,"b":180,"c":120,"d":127,"v":-3500},{"a":158,"b":166,"c":192,"d":208,"v":-200},{"a":166,"b":173,"c":192,"d":208,"v":-500},{"a":173,"b":180,"c":192,"d":208,"v":-1500},{"a":158,"b":166,"c":208,"d":224,"v":-400},{"a":166,"b":173,"c":208,"d":224,"v":-1000},{"a":173,"b":180,"c":208,"d":224,"v":-2500},{"a":135,"b":158,"c":224,"d":255,"v":-500},{"a":158,"b":166,"c":224,"d":240,"v":-800},{"a":166,"b":173,"c":224,"d":240,"v":-2000},{"a":173,"b":180,"c":224,"d":240,"v":-4000},{"a":158,"b":166,"c":240,"d":255,"v":-1500},{"a":166,"b":173,"c":240,"d":255,"v":-3500},{"a":173,"b":180,"c":240,"d":255,"v":-6000},
{"a":241,"b":248,"c":88,"d":104,"v":-300},{"a":248,"b":255,"c":88,"d":104,"v":-1500},{"a":233,"b":241,"c":104,"d":120,"v":-300},{"a":241,"b":248,"c":104,"d":120,"v":-1500},{"a":248,"b":255,"c":104,"d":120,"v":-3000},{"a":233,"b":241,"c":120,"d":127,"v":-1000},{"a":241,"b":248,"c":120,"d":127,"v":-2500},{"a":248,"b":255,"c":120,"d":127,"v":-3500},{"a":233,"b":255,"c":160,"d":192,"v":-500},{"a":233,"b":241,"c":192,"d":208,"v":-400},{"a":241,"b":248,"c":192,"d":208,"v":-800},{"a":248,"b":255,"c":192,"d":208,"v":-1500},{"a":233,"b":241,"c":208,"d":224,"v":-600},{"a":241,"b":248,"c":208,"d":224,"v":-1200},{"a":248,"b":255,"c":208,"d":224,"v":-2500},{"a":233,"b":241,"c":224,"d":240,"v":-1000},{"a":241,"b":248,"c":224,"d":240,"v":-2000},{"a":248,"b":255,"c":224,"d":240,"v":-4000},{"a":233,"b":241,"c":240,"d":255,"v":-1500},{"a":241,"b":248,"c":240,"d":255,"v":-3500},{"a":248,"b":255,"c":240,"d":255,"v":-6000}],
"s1":[{"a":8,"b":8},{"a":11,"b":11},{"a":19,"b":19},{"a":26,"b":26},{"a":32,"b":32},{"a":39,"b":39},{"a":46,"b":46},{"a":53,"b":53},{"a":60,"b":60},{"a":66,"b":66},{"a":73,"b":73},{"a":81,"b":81},{"a":88,"b":88},{"a":97,"b":97},{"a":104,"b":104},{"a":111,"b":111},{"a":118,"b":118},{"a":125,"b":125},{"a":134,"b":134},{"a":142,"b":142},{"a":148,"b":148},{"a":156,"b":156},{"a":162,"b":162},{"a":170,"b":170},{"a":179,"b":179},{"a":186,"b":186},{"a":195,"b":195},{"a":200,"b":200},{"a":207,"b":207},{"a":216,"b":216},{"a":224,"b":224},{"a":231,"b":231},{"a":238,"b":238},{"a":245,"b":245}],
"s3":[{"a":6,"b":6},{"a":9,"b":9},{"a":12,"b":12},{"a":15,"b":15},{"a":18,"b":18},{"a":21,"b":21},{"a":23,"b":23},{"a":26,"b":26},{"a":29,"b":29},{"a":31,"b":31},{"a":39,"b":39},{"a":43,"b":43},{"a":47,"b":47},{"a":52,"b":52},{"a":54,"b":57},{"a":57,"b":61},{"a":77,"b":64},{"a":74,"b":66},{"a":73,"b":68},{"a":77,"b":77},{"a":80,"b":80},{"a":83,"b":83},{"a":85,"b":85},{"a":88,"b":88},{"a":90,"b":90},{"a":99,"b":99},{"a":102,"b":102},{"a":106,"b":106},{"a":109,"b":109},{"a":113,"b":113},{"a":116,"b":116},{"a":119,"b":119},{"a":123,"b":123},{"a":126,"b":126},{"a":130,"b":130},{"a":133,"b":133},{"a":136,"b":136},{"a":140,"b":140},{"a":143,"b":143},{"a":147,"b":147},{"a":150,"b":150},{"a":153,"b":153},{"a":157,"b":157},{"a":167,"b":167},{"a":190,"b":170},{"a":190,"b":176},{"a":191,"b":181},{"a":192,"b":187},{"a":195,"b":195},{"a":198,"b":198},{"a":201,"b":201},{"a":204,"b":204},{"a":207,"b":207},{"a":210,"b":210},{"a":213,"b":213},{"a":216,"b":216},{"a":219,"b":219},{"a":221,"b":221},{"a":228,"b":228},{"a":232,"b":235},{"a":235,"b":241},{"a":238,"b":246},{"a":238,"b":249}]},
"concat":[
{"width":90.5,"height":90.5,"data":{"name":"mul"},"mark":{"type":"rect","width":6.8,"height":6.8,"clip":true},"encoding":{"x":{"field":"w","type":"quantitative","scale":{"domain":[0,255],"nice":false},"axis":{"orient":"top","title":"Weight","values":[0,63,127,191,255],"labelPadding":4,"titlePadding":2}},"y":{"field":"i","type":"quantitative","scale":{"domain":[255,0],"nice":false},"axis":{"title":"Input","values":[0,63,127,191,255],"labelPadding":2,"titlePadding":3}},"color":{"field":"v","type":"quantitative","scale":{"scheme":"viridis","domain":[-1,65025]},"legend":{"format":"d","values":[0,10000,20000,30000,40000,50000,60000]}}}},
{"width":90.5,"height":90.5,"view":{"fill":"#f7f7f7"},"data":{"name":"p2"},"mark":{"type":"rect","clip":true},"encoding":{"x":{"field":"a","type":"quantitative","scale":{"domain":[0,255],"nice":false},"axis":{"orient":"top","title":"Weight","values":[0,63,127,191,255],"labelPadding":4,"titlePadding":2}},"x2":{"field":"b"},"y":{"field":"c","type":"quantitative","scale":{"domain":[255,0],"nice":false},"axis":{"title":"Input","values":[0,63,127,191,255],"labelPadding":2,"titlePadding":3}},"y2":{"field":"d"},"color":{"field":"v","type":"quantitative","scale":{"scheme":"purplegreen","domain":[-1550,1550]},"legend":{"format":"d","values":[-1500,-1000,-500,0,500,1000,1500]}}}},
{"width":90.5,"height":90.5,"data":{"name":"p3"},"mark":{"type":"rect","width":6.8,"height":6.8,"clip":true},"encoding":{"x":{"field":"w","type":"quantitative","scale":{"domain":[0,255],"nice":false},"axis":{"orient":"top","title":"Weight","values":[0,63,127,191,255],"labelPadding":4,"titlePadding":2}},"y":{"field":"i","type":"quantitative","scale":{"domain":[255,0],"nice":false},"axis":{"title":"Input","values":[0,63,127,191,255],"labelPadding":2,"titlePadding":3}},"color":{"field":"v","type":"quantitative","scale":{"scheme":"viridis","domain":[-1,57500]},"legend":{"format":"d","values":[0,10000,20000,30000,40000,50000]}}}},
{"width":90.5,"height":90.5,"view":{"fill":"#f7f7f7"},"data":{"name":"p4"},"encoding":{"x":{"field":"a","type":"quantitative","scale":{"domain":[0,255],"nice":false},"axis":{"orient":"top","title":"Weight","values":[0,63,127,191,255],"labelPadding":4,"titlePadding":2}},"x2":{"field":"b"},"y":{"field":"c","type":"quantitative","scale":{"domain":[255,0],"nice":false},"axis":{"title":"Input","values":[0,63,127,191,255],"labelPadding":2,"titlePadding":3}},"y2":{"field":"d"},"color":{"field":"v","type":"quantitative","scale":{"scheme":"purplegreen","domain":[-9000,9000]},"legend":{"format":"d","values":[-7500,-5000,-2500,0,2500,5000,7500]}}},"layer":[{"mark":{"type":"rect","clip":true}},{"mark":{"type":"rect","clip":true}}]},
{"width":90.5,"height":27.2,"view":{"stroke":null},"data":{"name":"s1"},"mark":{"type":"rule","color":"red","strokeWidth":1},"encoding":{"x":{"field":"a","type":"quantitative","scale":{"domain":[0,255],"nice":false},"axis":null},"x2":{"field":"b"},"y":{"datum":1,"type":"quantitative","scale":{"domain":[0,1]},"axis":null},"y2":{"datum":0}}},
{"width":90.5,"height":27.2,"view":{"stroke":null},"data":{"values":[]},"mark":"rule","encoding":{}},
{"width":90.5,"height":27.2,"view":{"stroke":null},"data":{"name":"s3"},"mark":{"type":"rule","color":"red","strokeWidth":1.4},"encoding":{"x":{"field":"a","type":"quantitative","scale":{"domain":[0,255],"nice":false},"axis":null},"x2":{"field":"b"},"y":{"datum":1,"type":"quantitative","scale":{"domain":[0,1]},"axis":null},"y2":{"datum":0}}},
{"width":90.5,"height":27.2,"view":{"stroke":null},"data":{"values":[]},"mark":"rule","encoding":{}},
{"width":90.5,"height":90.5,"data":{"name":"mul"},"mark":{"type":"rect","width":6.8,"height":6.8,"clip":true},"encoding":{"x":{"field":"w","type":"quantitative","scale":{"domain":[0,255],"nice":false},"axis":{"title":"Weight","values":[0,63,127,191,255],"labelPadding":2,"titlePadding":3}},"y":{"field":"i","type":"quantitative","scale":{"domain":[255,0],"nice":false},"axis":{"title":"Input","values":[0,63,127,191,255],"labelPadding":2,"titlePadding":3}},"color":{"field":"v","type":"quantitative","scale":{"scheme":"viridis","domain":[-1,65025]},"legend":{"format":"d","values":[0,10000,20000,30000,40000,50000,60000]}}}},
{"width":90.5,"height":90.5,"view":{"fill":"#f7f7f7"},"data":{"name":"p6"},"mark":{"type":"rect","clip":true},"encoding":{"x":{"field":"a","type":"quantitative","scale":{"domain":[0,255],"nice":false},"axis":{"title":"Weight","values":[0,63,127,191,255],"labelPadding":2,"titlePadding":3}},"x2":{"field":"b"},"y":{"field":"c","type":"quantitative","scale":{"domain":[255,0],"nice":false},"axis":{"title":"Input","values":[0,63,127,191,255],"labelPadding":2,"titlePadding":3}},"y2":{"field":"d"},"color":{"field":"v","type":"quantitative","scale":{"scheme":"purplegreen","domain":[-1550,1550]},"legend":{"format":"d","values":[-1500,-1000,-500,0,500,1000,1500]}}}},
{"width":90.5,"height":90.5,"data":{"name":"p7"},"encoding":{"x":{"field":"a","type":"quantitative","scale":{"domain":[0,255],"nice":false},"axis":{"title":"Weight","values":[0,63,127,191,255],"labelPadding":2,"titlePadding":3}},"x2":{"field":"b"},"y":{"field":"i","type":"quantitative","scale":{"domain":[255,0],"nice":false},"axis":{"title":"Input","values":[0,63,127,191,255],"labelPadding":2,"titlePadding":3}},"color":{"field":"v","type":"quantitative","scale":{"scheme":"viridis","domain":[-1,57500]},"legend":{"format":"d","values":[0,10000,20000,30000,40000,50000]}}},"layer":[{"mark":{"type":"rect","height":6.8,"clip":true}},{"mark":{"type":"rect","height":6.8,"clip":true}},{"mark":{"type":"rect","height":6.8,"clip":true}}]},
{"width":90.5,"height":90.5,"view":{"fill":"#f7f7f7"},"data":{"name":"p8"},"encoding":{"x":{"field":"a","type":"quantitative","scale":{"domain":[0,255],"nice":false},"axis":{"title":"Weight","values":[0,63,127,191,255],"labelPadding":2,"titlePadding":3}},"x2":{"field":"b"},"y":{"field":"c","type":"quantitative","scale":{"domain":[255,0],"nice":false},"axis":{"title":"Input","values":[0,63,127,191,255],"labelPadding":2,"titlePadding":3}},"y2":{"field":"d"},"color":{"field":"v","type":"quantitative","scale":{"scheme":"purplegreen","domain":[-9000,9000]},"legend":{"format":"d","values":[-7500,-5000,-2500,0,2500,5000,7500]}}},"layer":[{"mark":{"type":"rect","clip":true}},{"mark":{"type":"rect","clip":true}}]}
]}
